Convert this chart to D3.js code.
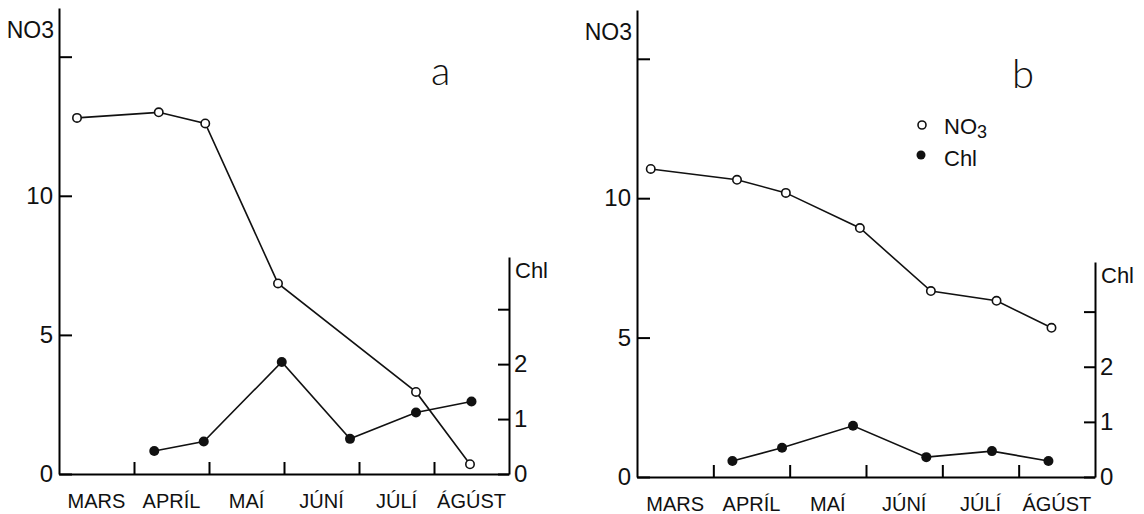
<!DOCTYPE html>
<html>
<head>
<meta charset="utf-8">
<script src="https://cdn.jsdelivr.net/npm/d3@7"></script>
<style>
  body { margin: 0; background: #fff; }
  text { font-family: 'Liberation Sans', sans-serif; fill: #111; }
  .month { font-family: 'Liberation Sans Narrow', 'Liberation Sans', sans-serif; }
  .panel-label { font-family: Lato, 'Liberation Sans', sans-serif; font-weight: 300; }
</style>
</head>
<body>
<div id="chart"></div>
<script>
const months = ['MARS', 'APRÍL', 'MAÍ', 'JÚNÍ', 'JÚLÍ', 'ÁGÚST']
const no3Ticks = [0, 5, 10, 15]
const chlTicks = [0, 1, 2, 3]

// panel a (month position, value)
const no3A_t = [0.24, 1.33, 1.95, 2.92, 4.76, 5.48]
const no3A = [12.8, 13.0, 12.6, 6.85, 2.95, 0.35]
const chlA_t = [1.27, 1.93, 2.97, 3.88, 4.76, 5.5]
const chlA = [0.42, 0.59, 2.04, 0.64, 1.12, 1.32]

// panel b
const no3B_t = [0.18, 1.31, 1.95, 2.92, 3.85, 4.71, 5.43]
const no3B = [11.05, 10.66, 10.19, 8.93, 6.67, 6.32, 5.35]
const chlB_t = [1.25, 1.9, 2.83, 3.79, 4.65, 5.39]
const chlB = [0.29, 0.53, 0.93, 0.36, 0.47, 0.29]

const width = 1144
const height = 514

const svg = d3
  .select('#chart')
  .append('svg')
  .attr('width', width)
  .attr('height', height)

const zip = (ts, vs) => ts.map((t, i) => ({ t, v: vs[i] }))

function drawPanel(p) {
  const x = d3.scaleLinear().domain([0, 6]).range([p.left, p.right])
  const y = d3.scaleLinear().domain([0, 16.75]).range([p.bottom, p.top])
  const yc = d3.scaleLinear().domain([0, p.chlMax]).range([p.bottom, p.chlTop])

  const g = svg.append('g')

  // left NO3 axis, ticks pointing inwards
  g.append('g')
    .attr('transform', `translate(${p.left},0)`)
    .call(
      d3.axisLeft(y)
        .tickValues(no3Ticks)
        .tickSize(-13)
        .tickSizeOuter(0)
        .tickPadding(6)
        .tickFormat(d => (d === 15 ? '' : d))
    )
    .call(a => a.select('.domain').attr('stroke-width', 2))
    .call(a => a.selectAll('line').attr('stroke-width', 2))
    .call(a => a.selectAll('text').attr('font-size', 24).attr('font-family', null))

  // right Chl axis
  g.append('g')
    .attr('transform', `translate(${p.right},0)`)
    .call(
      d3.axisRight(yc)
        .tickValues(chlTicks)
        .tickSize(-11)
        .tickSizeOuter(0)
        .tickPadding(5)
        .tickFormat(d => (d === 3 ? '' : d))
    )
    .call(a => a.select('.domain').attr('stroke-width', 2))
    .call(a => a.selectAll('line').attr('stroke-width', 2))
    .call(a => a.selectAll('text').attr('font-size', 24).attr('font-family', null))

  // bottom axis: upward month separators
  g.append('g')
    .attr('transform', `translate(0,${p.bottom})`)
    .call(
      d3.axisBottom(x)
        .tickValues([1, 2, 3, 4, 5])
        .tickSize(-12)
        .tickSizeOuter(0)
        .tickFormat('')
    )
    .call(a => a.select('.domain').attr('stroke-width', 2))
    .call(a => a.selectAll('line').attr('stroke-width', 2))

  g.append('g')
    .selectAll('text')
    .data(months)
    .join('text')
    .attr('class', 'month')
    .attr('x', (_, i) => x(i + 0.5))
    .attr('y', p.bottom + 34)
    .attr('text-anchor', 'middle')
    .attr('font-size', 20)
    .text(d => d)

  g.append('text')
    .attr('x', p.left - 5)
    .attr('y', p.top + 30)
    .attr('text-anchor', 'end')
    .attr('font-size', 23)
    .text('NO3')

  g.append('text')
    .attr('x', p.right + 6)
    .attr('y', p.chlTop + 21)
    .attr('font-size', 22)
    .text('Chl')

  g.append('text')
    .attr('class', 'panel-label')
    .attr('x', p.labelX)
    .attr('y', p.labelY)
    .attr('font-size', 40)
    .text(p.label)

  const no3Line = d3.line().x(d => x(d.t)).y(d => y(d.v))
  const chlLine = d3.line().x(d => x(d.t)).y(d => yc(d.v))
  const no3 = zip(p.no3_t, p.no3)
  const chl = zip(p.chl_t, p.chl)

  g.append('path')
    .datum(no3)
    .attr('d', no3Line)
    .attr('fill', 'none')
    .attr('stroke', '#111')
    .attr('stroke-width', 1.6)

  g.append('path')
    .datum(chl)
    .attr('d', chlLine)
    .attr('fill', 'none')
    .attr('stroke', '#111')
    .attr('stroke-width', 1.6)

  g.append('g')
    .selectAll('circle')
    .data(no3)
    .join('circle')
    .attr('cx', d => x(d.t))
    .attr('cy', d => y(d.v))
    .attr('r', 4.2)
    .attr('fill', '#fff')
    .attr('stroke', '#111')
    .attr('stroke-width', 1.6)

  g.append('g')
    .selectAll('circle')
    .data(chl)
    .join('circle')
    .attr('cx', d => x(d.t))
    .attr('cy', d => yc(d.v))
    .attr('r', 5)
    .attr('fill', '#111')
}

drawPanel({
  left: 59, right: 509, bottom: 474, top: 8, chlTop: 257, chlMax: 3.95,
  no3_t: no3A_t, no3: no3A, chl_t: chlA_t, chl: chlA,
  label: 'a', labelX: 431, labelY: 85
})

drawPanel({
  left: 637, right: 1095, bottom: 477, top: 10, chlTop: 262, chlMax: 3.9,
  no3_t: no3B_t, no3: no3B, chl_t: chlB_t, chl: chlB,
  label: 'b', labelX: 1012, labelY: 88
})

// legend in panel b
const legend = svg.append('g')
legend.append('circle')
  .attr('cx', 922).attr('cy', 125).attr('r', 4)
  .attr('fill', '#fff').attr('stroke', '#111').attr('stroke-width', 1.6)
legend.append('circle')
  .attr('cx', 921).attr('cy', 155).attr('r', 4.5)
  .attr('fill', '#111')
const lt = legend.append('text').attr('x', 944).attr('y', 134).attr('font-size', 22)
lt.append('tspan').text('NO')
lt.append('tspan').attr('dy', 4).attr('font-size', 18).text('3')
legend.append('text').attr('x', 944).attr('y', 166).attr('font-size', 22).text('Chl')
</script>
</body>
</html>
